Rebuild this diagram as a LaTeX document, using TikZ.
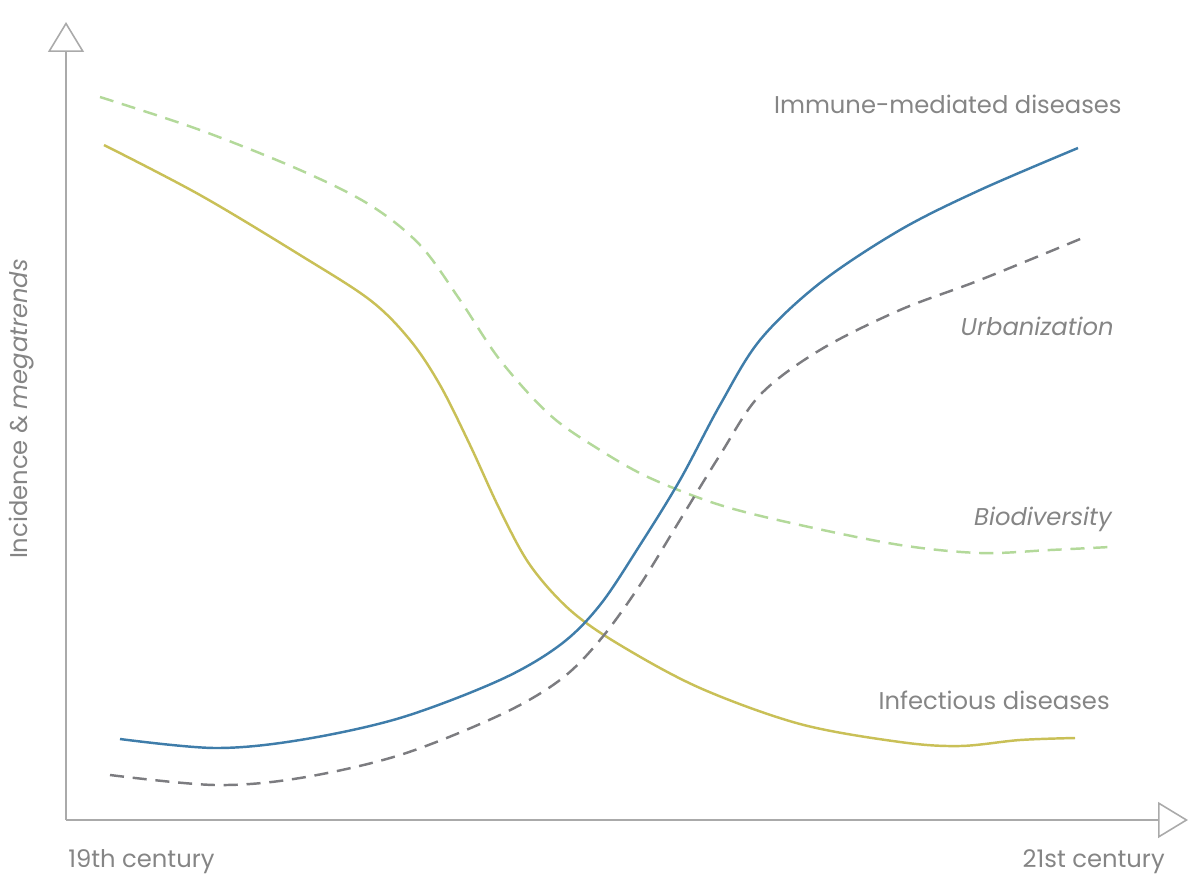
\documentclass[tikz,border=0pt]{standalone}
\usepackage{fontspec}
\setmainfont{Poppins}
\usetikzlibrary{arrows.meta,positioning}

\definecolor{axisgray}{HTML}{AAAAAA}
\definecolor{textgray}{HTML}{858585}
\definecolor{infyellow}{HTML}{C9C057}
\definecolor{biogreen}{HTML}{B3D99A}
\definecolor{immblue}{HTML}{3F7DAA}
\definecolor{urbgray}{HTML}{7C7C80}

\begin{document}
\begin{tikzpicture}[
        x=0.02cm, y=-0.02cm,
        axissty/.style={
            draw=axisgray, line width=0.9pt,
            -{Triangle[open, length=0.6cm, width=0.72cm]}
        },
        lblsty/.style={
            text=textgray, font=\fontsize{13.8}{15}\selectfont, inner sep=0pt
        },
        curvesty/.style={
            line width=1.4pt, smooth, tension=0.55
        }
    ]
    \useasboundingbox (0,0) rectangle (1190,876);

    \coordinate (origin) at (66,820);
    \coordinate (ytip) at (66,22);
    \coordinate (xtip) at (1188,820);

    \draw[axissty] (origin) -- (ytip);
    \draw[axissty] (origin) -- (xtip);

    % curves
    \draw[curvesty, infyellow] plot coordinates {(104,145) (200,195) (300,255) (370,300) (410,340) (440,385) (470,445) (500,510) (530,565) (570,610) (620,645) (700,688) (800,724) (900,742) (960,746) (1020,740) (1075,738)};
    \draw[curvesty, biogreen, dashed, dash pattern=on 8pt off 5pt] plot coordinates {(100,97) (200,130) (300,170) (370,205) (420,245) (460,300) (500,360) (550,415) (600,450) (650,478) (720,505) (800,525) (900,545) (980,553) (1050,550) (1110,547)};
    \draw[curvesty, urbgray, dashed, dash pattern=on 8pt off 5pt] plot coordinates {(110,775) (215,785) (300,778) (400,755) (500,715) (560,680) (600,640) (640,585) (680,520) (720,455) (760,395) (820,350) (900,310) (980,280) (1085,237)};
    \draw[curvesty, immblue] plot coordinates {(120,739) (215,748) (300,740) (400,718) (500,680) (560,645) (600,605) (640,545) (680,480) (720,405) (760,340) (820,283) (900,230) (980,190) (1078,148)};

    % labels
    \node[lblsty, anchor=east] (imm) at (1122,104) {Immune-mediated diseases};
    \node[lblsty, anchor=east] (urb) at (1114,326) {\itshape Urbanization};
    \node[lblsty, anchor=east] (bio) at (1112,519) {\itshape Biodiversity};
    \node[lblsty, anchor=east] (inf) at (1110,700) {Infectious diseases};
    \node[lblsty, anchor=west] (c19) at (68,862) {19th century};
    \node[lblsty, anchor=east] (c21) at (1165,862) {21st century};
    \node[lblsty, rotate=90] (ylbl) at (22,409) {Incidence \& \itshape megatrends};
\end{tikzpicture}
\end{document}
